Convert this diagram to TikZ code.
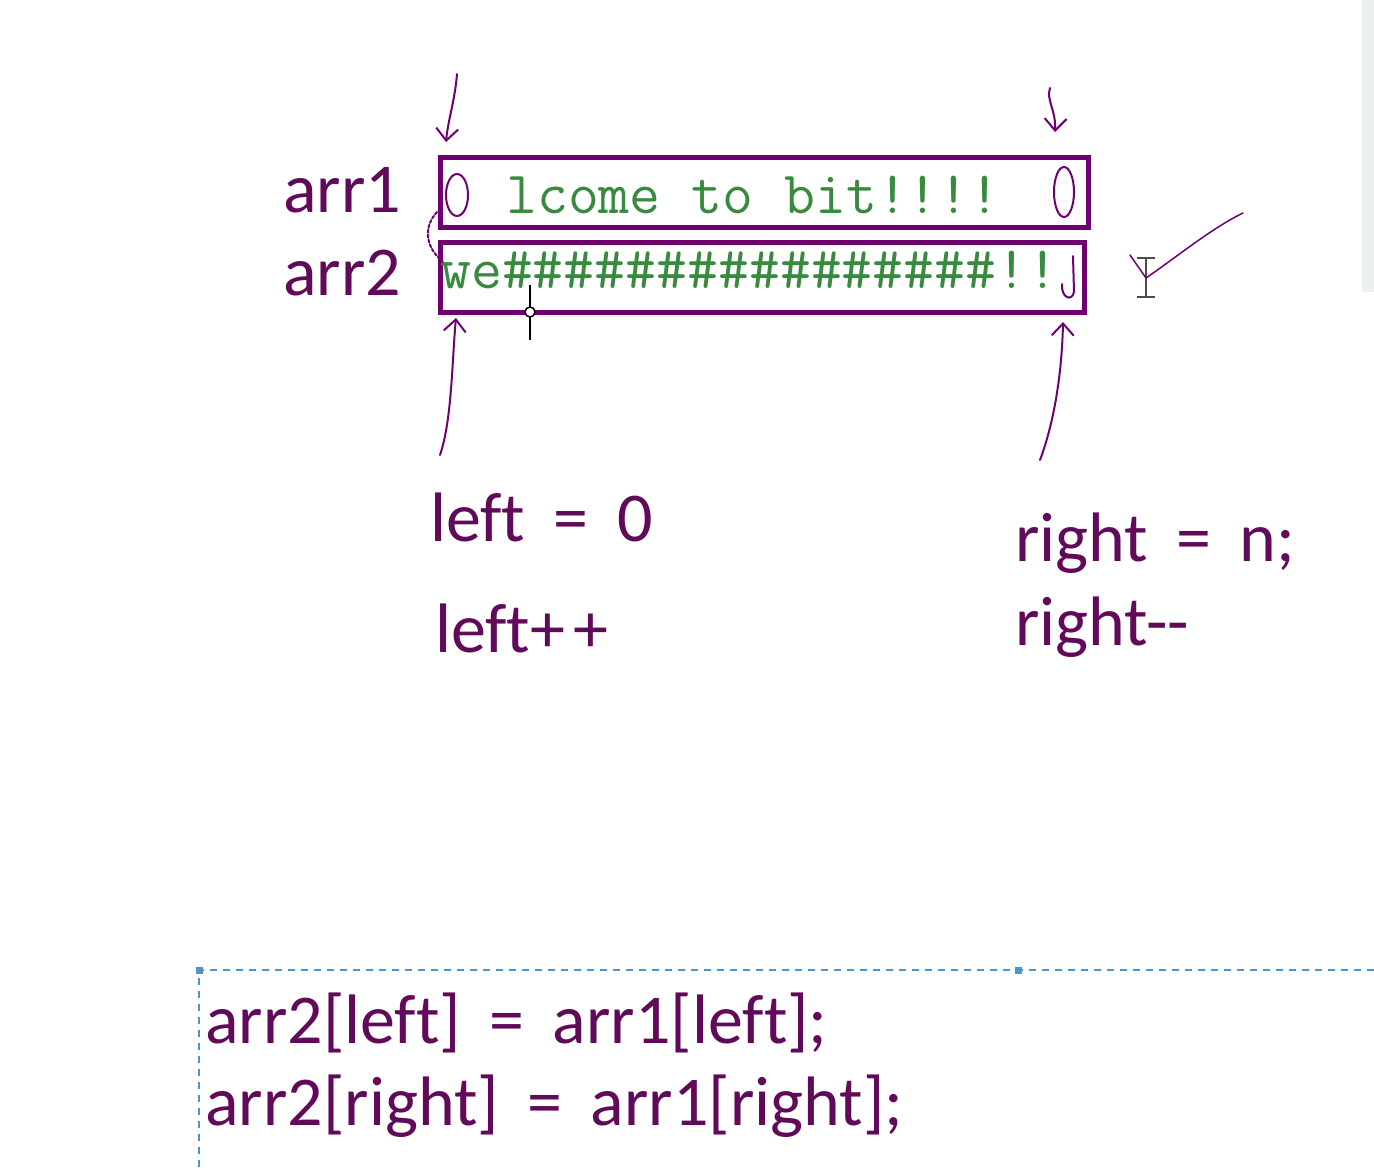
\documentclass[tikz,border=0pt]{standalone}
\usepackage{fontspec}
\setmainfont{Carlito}[Ligatures=NoCommon,WordSpace=1.8]
\usetikzlibrary{arrows.meta}
\definecolor{inkpurple}{RGB}{112,0,112}
\definecolor{textpurple}{RGB}{98,10,90}
\definecolor{cellgreen}{RGB}{56,138,62}
\definecolor{guideblue}{RGB}{70,150,210}
\definecolor{bargrey}{RGB}{236,240,240}

\begin{document}
\begin{tikzpicture}[x=1pt,y=-1pt,
    lbl/.style={text=textpurple,font=\fontsize{70}{74}\selectfont,anchor=base west,inner sep=0pt},
    cell/.style={text=cellgreen,font=\ttfamily\fontsize{60}{62}\selectfont,anchor=base west,inner sep=0pt},
    arrbox/.style={draw=inkpurple,line width=5pt,anchor=north west,inner sep=0pt},
    pen/.style={draw=inkpurple,line width=2pt,line cap=round,line join=round},
    tip/.style={-{Straight Barb[length=12pt,width=22pt]}}]
        % page
        \fill[white] (0,0) rectangle (1374,1171);
        \useasboundingbox (0,0) rectangle (1374,1171);
        \fill[bargrey] (1362,0) rectangle (1374,292);
        % the two arrays
        \node[arrbox,minimum width=648pt,minimum height=70pt] (box1) at (438,155) {};
        \node[arrbox,minimum width=644pt,minimum height=70pt] (box2) at (438,240) {};
        \node[lbl] (arr1) at (283,212) {arr1};
        \node[lbl] (arr2) at (283,295) {arr2};
        \node[cell] (text1) at (506,213) {lcome to bit!!!!};
        \node[cell] (text2) at (440,288) {we\#\#\#\#\#\#\#\#\#\#\#\#\#\#\#\#!!};
        % hand-drawn marks inside the boxes
        \draw[pen] (457,195) ellipse (11 and 21);
        \draw[pen] (1064,192) ellipse (10 and 25);
        \draw[pen] (1073,256) -- (1074,292) .. controls (1072,302) and (1061,298) .. (1062,284);
        \draw[pen,densely dashed] (437,212) .. controls (424,226) and (424,246) .. (443,262);
        % pointers
        \coordinate (lTopTail) at (457,74);
        \coordinate (lTopHead) at (446,142);
        \coordinate (rTopTail) at (1050,88);
        \coordinate (rTopHead) at (1055,132);
        \coordinate (lLowTail) at (440,455);
        \coordinate (lLowHead) at (456,318);
        \coordinate (rLowTail) at (1040,460);
        \coordinate (rLowHead) at (1063,322);
        \draw[pen,tip] (lTopTail) .. controls (455,100) and (448,120) .. (lTopHead);
        \draw[pen,tip] (rTopTail) .. controls (1046,100) and (1056,110) .. (rTopHead);
        \draw[pen,tip] (lLowTail) .. controls (452,420) and (452,360) .. (lLowHead);
        \draw[pen,tip] (rLowTail) .. controls (1055,420) and (1062,370) .. (rLowHead);
        % mouse cursors and tick
        \draw[black,line width=2pt] (530,285) -- (530,340);
        \draw[black,line width=1.5pt,fill=white] (530,312) circle (5);
        \draw[black!70,line width=2pt] (1146,258) -- (1146,297) (1137,258) -- (1155,258) (1137,297) -- (1155,297);
        \draw[pen,line width=1.5pt] (1130,255) -- (1146,278) .. controls (1178,256) and (1212,228) .. (1243,213);
        % index notes
        \node[lbl] (leftInit) at (430,541) {left = 0};
        \node[lbl] (leftStep) at (435,652) {left+\kern8pt+};
        \node[lbl] (rightInit) at (1015,561) {right = n;};
        \node[lbl] (rightStep) at (1015,645) {right-{}-};
        % code
        \draw[guideblue,dash pattern=on 7pt off 6pt,line width=2pt] (1374,970) -- (199,970) -- (199,1171);
        \fill[guideblue] (196,967) rectangle (203,974);
        \fill[guideblue] (1015,967) rectangle (1022,974);
        \node[lbl] (codeL) at (205,1043) {arr2[left] = arr1[left];};
        \node[lbl] (codeR) at (205,1125) {arr2[right] = arr1[right];};
      \end{tikzpicture}
\end{document}
